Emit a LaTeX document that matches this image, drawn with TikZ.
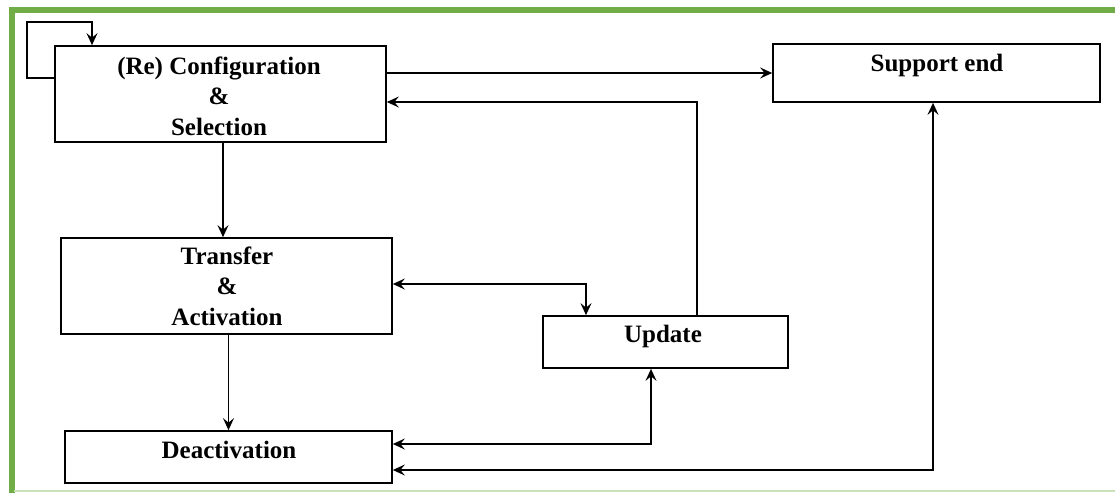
\documentclass[tikz,border=0pt]{standalone}
\usepackage{fontspec}
\setmainfont{Liberation Serif}
\usetikzlibrary{arrows.meta}
\definecolor{frameGreen}{HTML}{70AD47}
\definecolor{frameLight}{HTML}{C9E3B8}
\begin{document}
\begin{tikzpicture}[x=1pt,y=-1pt,
  box/.style={draw=black, line width=1.7pt, rectangle, inner sep=0pt},
  lbl/.style={font=\bfseries\fontsize{25}{30.5}\selectfont, align=center, inner sep=0pt},
  tip/.tip={Stealth[length=12pt,width=11pt,inset=4.5pt]},
  conn/.style={draw=black, line width=1.5pt, -tip},
  biconn/.style={draw=black, line width=1.5pt, tip-tip}]
\useasboundingbox (0,0) rectangle (1115,493);

% frame
\draw[frameGreen, line width=6pt] (1115,10) -- (11.5,10) -- (11.5,493);
\draw[frameLight, line width=2pt] (14,491) -- (1115,491);

% process boxes
\node[box, minimum width=331pt, minimum height=96pt] (cfg)   at (220.5,94)  {};
\node[box, minimum width=331pt, minimum height=96pt] (xfer)  at (226.5,286) {};
\node[box, minimum width=327pt, minimum height=52pt] (deact) at (228.5,457) {};
\node[box, minimum width=245pt, minimum height=52pt] (upd)   at (665.5,342) {};
\node[box, minimum width=327pt, minimum height=58pt] (sup)   at (936.5,73)  {};

% box labels
\node[lbl] (cfgtext)   at (219,96)  {(Re) Configuration\\\&\\Selection};
\node[lbl] (xfertext)  at (227,286) {Transfer\\\&\\Activation};
\node[lbl] (deacttext) at (229,450) {Deactivation};
\node[lbl] (updtext)   at (663,336) {Update};
\node[lbl] (suptext)   at (937,65)  {Support end};

% routing corners
\coordinate (loopL) at (27,78);
\coordinate (loopT) at (92,22);
\coordinate (updUp) at (697,102);
\coordinate (xu)    at (586,284);
\coordinate (du)    at (651,444);
\coordinate (ds)    at (933,470);

% connectors
\draw[conn] (cfg.west |- loopL) -- (loopL) -- (loopL |- loopT) -- (loopT) -- (cfg.north -| loopT);
\draw[conn] (cfg.east |- sup.west) -- (sup.west);
\draw[conn] (upd.north -| updUp) -- (updUp) -- (cfg.east |- updUp);
\draw[conn] ([xshift=2.5pt]cfg.south) -- ([xshift=2.5pt]cfg.south |- xfer.north);
\draw[biconn] (xfer.east |- xu) -- (xu) -- (upd.north -| xu);
\draw[conn] (xfer.south -| deact.north) -- (deact.north);
\draw[biconn] (deact.east |- du) -- (du) -- (upd.south -| du);
\draw[biconn] (deact.east |- ds) -- (ds) -- (sup.south -| ds);
\end{tikzpicture}
\end{document}
